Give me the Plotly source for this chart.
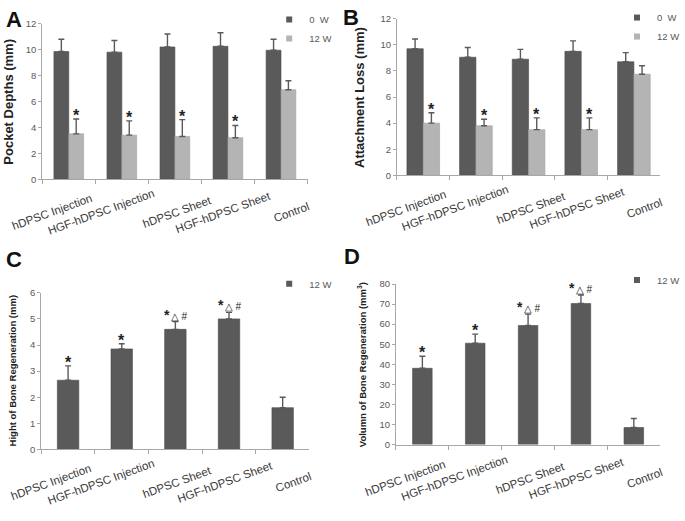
import plotly.graph_objects as go

# ---------------- data ----------------
categories = ["hDPSC Injection", "HGF-hDPSC Injection", "hDPSC Sheet", "HGF-hDPSC Sheet", "Control"]

pd_0w = [9.85, 9.8, 10.2, 10.25, 9.95]
pd_0w_err = [0.95, 0.9, 1.0, 1.05, 0.85]
pd_12w = [3.5, 3.4, 3.3, 3.2, 6.9]
pd_12w_err = [1.15, 1.1, 1.3, 0.95, 0.7]
pd_sig = ["*", "*", "*", "*", ""]

al_0w = [9.7, 9.05, 8.9, 9.5, 8.7]
al_0w_err = [0.75, 0.75, 0.75, 0.8, 0.7]
al_12w = [4.0, 3.8, 3.5, 3.5, 7.75]
al_12w_err = [0.8, 0.5, 0.9, 0.9, 0.65]
al_sig = ["*", "*", "*", "*", ""]

hb_12w = [2.65, 3.85, 4.6, 5.0, 1.6]
hb_12w_err = [0.55, 0.2, 0.3, 0.25, 0.4]
hb_sig = ["*", "*", "*△#", "*△#", ""]

vb_12w = [38.0, 50.5, 59.3, 70.3, 8.5]
vb_12w_err = [6.0, 4.5, 5.7, 4.2, 4.5]
vb_sig = ["*", "*", "*△#", "*△#", ""]

series_names = ["0\u00a0\u00a0W", "12\u00a0W"]
panel_letters = ["A", "B", "C", "D"]
y_titles = ["Pocket Depths (mm)", "Attachment Loss (mm)",
            "Hight of Bone Regeneration (mm)", "Volumn of Bone Regeneration (mm<sup>3</sup>)"]
y_ranges = [(0, 12, 2), (0, 12, 2), (0, 6, 1), (0, 80, 10)]

# ---------------- style ----------------
W, H = 685, 521
DARK = "#5a5a5a"
LIGHT = "#b4b4b4"
AXIS = "#a8a8a8"
TICKTXT = "#595959"
FONT = "Liberation Sans, Arial, sans-serif"

def px_dom(x0, x1, y0, y1):
    return [x0 / W, x1 / W], [1 - y1 / H, 1 - y0 / H]

domains = [px_dom(43, 313, 18, 177), px_dom(404, 672, 13, 173),
           px_dom(42, 315, 293, 453), px_dom(403, 672, 284, 448)]
bar_w = [0.28, 0.31, 0.40, 0.37]
title_shift = [-34, -38, -29, -34]
title_size = [13, 13, 9.5, 9.5]
letter_pos = [(14, 14), (357, 12), (14, 259), (358, 256)]
label_xshift = [-17, -21, 2, -4, 11]
legend_pos = [(292, 17), (646, 15), (292, 287), (646, 283)]

fig = go.Figure()
ann = []

panels = [
    [(pd_0w, pd_0w_err, DARK), (pd_12w, pd_12w_err, LIGHT), pd_sig],
    [(al_0w, al_0w_err, DARK), (al_12w, al_12w_err, LIGHT), al_sig],
    [(hb_12w, hb_12w_err, DARK), hb_sig],
    [(vb_12w, vb_12w_err, DARK), vb_sig],
]

for p, spec in enumerate(panels):
    sfx = "" if p == 0 else str(p + 1)
    xa, ya = "x" + sfx, "y" + sfx
    lg = "legend" + sfx
    series = spec[:-1]
    sig = spec[-1]
    w = bar_w[p]
    n = len(series)
    for k, (vals, errs, col) in enumerate(series):
        off = -w if n == 2 and k == 0 else (0 if n == 2 else -w / 2)
        fig.add_trace(go.Bar(
            x=categories, y=vals, xaxis=xa, yaxis=ya,
            width=w, offset=off,
            marker=dict(color=col, line=dict(color="#4a4a4a" if col == DARK else "#a0a0a0", width=0.6)),
            error_y=dict(type="data", array=errs, arrayminus=[0] * len(errs), symmetric=False,
                         color="#5a5a5a", thickness=1.4, width=3),
            showlegend=False, hoverinfo="skip",
        ))
        name = series_names[k] if n == 2 else series_names[1]
        fig.add_trace(go.Scatter(
            x=[None], y=[None], xaxis=xa, yaxis=ya, mode="markers", name=name,
            marker=dict(symbol="square", size=6, color=col), legend=lg, showlegend=True,
        ))
    # significance marks above the 12 W series
    vals, errs, _ = series[-1]
    xoff = w / 2 if n == 2 else 0
    for i, s in enumerate(sig):
        if not s:
            continue
        if s == "*":
            txt = "<b>*</b>"
            size = 16
            ysh = -7
        else:
            txt = ("<span style='font-size:14px'><b>" + s[0] + "</b></span>\u2009"
                   "<span style='font-size:9.5px'>" + s[1] + "</span>\u2009"
                   "<span style='font-size:10px'>" + s[2] + "</span>")
            size = 10
            ysh = -3
        ann.append(dict(x=i + xoff, y=vals[i] + errs[i], xref=xa, yref=ya, text=txt,
                        showarrow=False, yanchor="bottom", yshift=ysh,
                        font=dict(family=FONT, size=size, color="#222222")))
    # category labels
    for i, c in enumerate(categories):
        ann.append(dict(x=i, y=0, xref=xa, yref=ya, text=c, textangle=-20, showarrow=False,
                        xanchor="center", yanchor="middle", yshift=-33, xshift=label_xshift[i],
                        font=dict(family=FONT, size=11.5, color="#3a3a3a")))
    # y title
    ann.append(dict(x=0, y=0.5, xref=xa + " domain", yref=ya + " domain", text="<b>%s</b>" % y_titles[p],
                    textangle=-90, showarrow=False, xanchor="center", yanchor="middle",
                    xshift=title_shift[p], font=dict(family=FONT, size=title_size[p], color="#222222")))
    # panel letter
    lx, ly = letter_pos[p]
    ann.append(dict(x=lx / W, y=1 - ly / H, xref="paper", yref="paper", text="<b>%s</b>" % panel_letters[p],
                    showarrow=False, xanchor="center", yanchor="middle",
                    font=dict(family=FONT, size=22, color="#111111")))

    xd, yd = domains[p]
    r0, r1, dt = y_ranges[p]
    fig.layout["xaxis" + sfx] = dict(
        domain=xd, anchor=ya, type="category", range=[-0.5, 4.5], showticklabels=False,
        ticks="outside", tickson="boundaries", ticklen=4, tickcolor=AXIS, showline=True,
        linecolor=AXIS, linewidth=1, showgrid=False, zeroline=False, fixedrange=True)
    fig.layout["yaxis" + sfx] = dict(
        domain=yd, anchor=xa, range=[r0, r1], dtick=dt, tick0=0, ticks="outside", ticklen=3,
        tickcolor=AXIS, showline=True, linecolor=AXIS, linewidth=1, showgrid=False, zeroline=False,
        tickfont=dict(family=FONT, size=9.5, color=TICKTXT), fixedrange=True)
    sx, sy = legend_pos[p]
    fig.layout[lg] = dict(x=(sx - 18) / W, y=1 - (sy - 18) / H, xanchor="left", yanchor="top",
                          bgcolor="rgba(0,0,0,0)", borderwidth=0, tracegroupgap=0,
                          font=dict(family=FONT, size=9.5, color=TICKTXT), itemwidth=30)

fig.update_layout(
    width=W, height=H, autosize=False, margin=dict(l=0, r=0, t=0, b=0),
    paper_bgcolor="white", plot_bgcolor="white", barmode="overlay",
    annotations=ann, showlegend=True,
)

fig.write_html("out.html", config={"displayModeBar": False})

# remove the browser's default page margin so the figure starts at the window corner
with open("out.html", "r", encoding="utf-8") as f:
    html = f.read()
html = html.replace("<body>", '<body style="margin:0;padding:0;overflow:hidden">', 1)
html = html.replace("<head>", '<head><style>html,body{margin:0;padding:0}</style>', 1)
with open("out.html", "w", encoding="utf-8") as f:
    f.write(html)
